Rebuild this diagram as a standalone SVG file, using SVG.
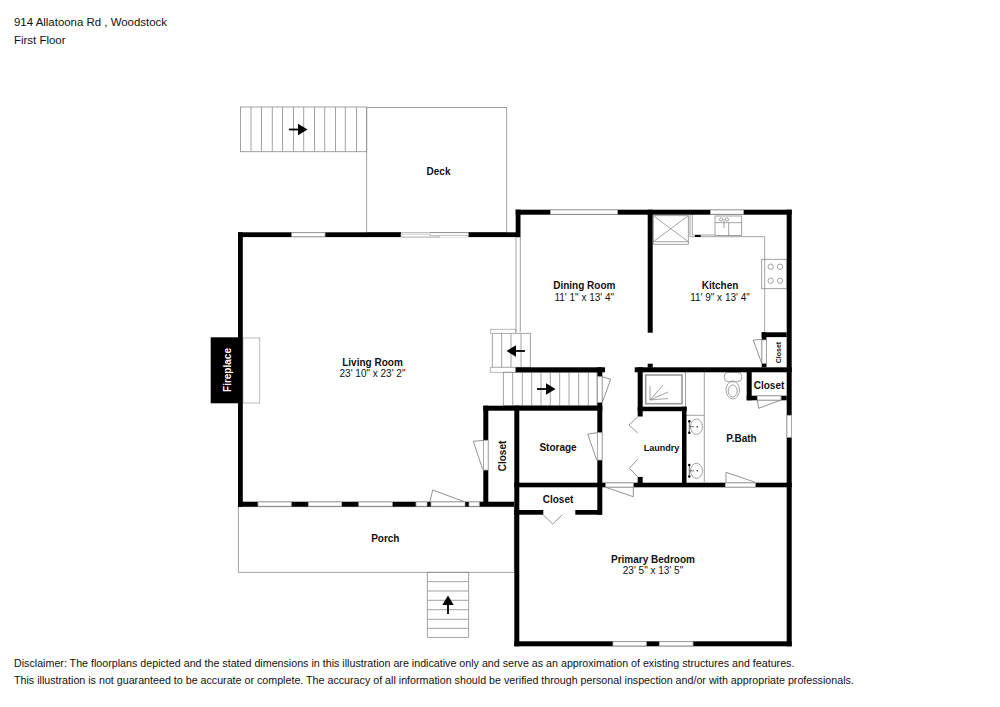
<svg xmlns="http://www.w3.org/2000/svg" width="1000" height="707" viewBox="0 0 1000 707">
<style>
text{font-family:"Liberation Sans",Arial,sans-serif;fill:#111;font-size:10px}
.b{font-weight:bold;text-anchor:middle}
.d{text-anchor:middle}
.h{font-size:11.45px}
.f{font-size:10.7px}
.t{fill:none;stroke:#8c8c8c;stroke-width:.8}
.w{fill:#fff;stroke:#a8a8a8;stroke-width:.8}
.k{fill:#000}
.s{fill:none;stroke:#777;stroke-width:.8}
</style>
<defs>
<g id="ar"><path d="M-9 0H2" stroke="#000" stroke-width="1.8" fill="none"/><path d="M0-5.7L9.5 0L0 5.7Z" fill="#000"/></g>
</defs>
<rect width="1000" height="707" fill="#fff"/>
<g id="header">
<text class="h" x="14" y="26">914 Allatoona Rd , Woodstock</text>
<text class="h" x="14" y="44">First Floor</text>
</g>
<g id="deck">
<rect class="t" x="366.7" y="107.5" width="140" height="125"/>
<text class="b" x="438.5" y="175">Deck</text>
</g>
<g id="deck-stairs">
<rect class="t" x="240.5" y="107" width="126.2" height="44.7"/>
<path class="t" d="M251 107V151.7M261.5 107V151.7M272.3 107V151.7M282.5 107V151.7M293.5 107V151.7M303.7 107V151.7M314.5 107V151.7M324.7 107V151.7M335.5 107V151.7M345.3 107V151.7M356.5 107V151.7"/>
<use href="#ar" x="298" y="129.5"/>
</g>
<g id="porch">
<rect class="t" x="238.3" y="506.7" width="276" height="65.6"/>
<text class="b" x="385.3" y="542">Porch</text>
</g>
<g id="porch-stairs">
<rect class="t" x="427.3" y="572.3" width="41.4" height="65"/>
<path class="t" d="M427.3 581.7H468.7M427.3 591H468.7M427.3 600.3H468.7M427.3 609.7H468.7M427.3 619.3H468.7M427.3 628.3H468.7"/>
<use href="#ar" transform="translate(448 605) rotate(-90)"/>
</g>
<g id="fireplace">
<rect class="w" x="243" y="338" width="16.7" height="65"/>
<rect class="k" x="210.7" y="337.3" width="28" height="66"/>
<text x="231" y="370" text-anchor="middle" transform="rotate(-90 231 370)" style="fill:#fff;font-weight:bold">Fireplace</text>
</g>
<g id="kitchen-fixtures">
<rect class="t" x="653.3" y="215.7" width="35" height="28.6"/>
<path class="t" d="M653.3 215.7L688.3 241.7M688.3 215.7L653.3 241.7M653.3 241.7H688.3"/>
<path class="t" d="M690 214.7V236.7H764.7V332M692.3 214.7V235H715"/>
<rect class="k" x="695" y="235" width="5.7" height="2"/>
<rect class="t" x="715" y="216" width="26.7" height="19.5"/>
<path class="t" d="M715 222.7H741.7M728.7 222.7V235.5M724 219V228"/>
<circle class="t" cx="721" cy="219.5" r="1.6"/><circle class="t" cx="727" cy="219.5" r="1.6"/>
<rect class="t" x="761.7" y="259.3" width="25.3" height="29.4"/>
<circle class="t" cx="770.7" cy="266.7" r="2.7"/><circle class="t" cx="780" cy="266.7" r="2.7"/>
<circle class="t" cx="770.7" cy="280.7" r="2.7"/><circle class="t" cx="780" cy="280.7" r="2.7"/>
</g>
<g id="inner-stairs">
<rect class="t" x="492.3" y="333.3" width="38" height="34"/>
<rect class="w" x="490.3" y="329.3" width="25.4" height="4"/>
<rect class="w" x="490.3" y="367.3" width="25.4" height="5"/>
<path class="t" d="M501.7 333.3V367.3M511 333.3V367.3M521 333.3V367.3"/>
<use href="#ar" transform="translate(516 351) rotate(180)"/>
<rect class="t" x="503.3" y="372.3" width="93.7" height="33.4"/>
<path class="t" d="M512.7 372.3V405.7M522.3 372.3V405.7M531.7 372.3V405.7M541 372.3V405.7M550.3 372.3V405.7M559.7 372.3V405.7M569 372.3V405.7M578.7 372.3V405.7M588.3 372.3V405.7"/>
<use href="#ar" x="546" y="389"/>
</g>
<g id="bath-fixtures">
<rect x="645.7" y="375" width="36.3" height="28.7" fill="#fff" stroke="#999" stroke-width="1.6"/>
<path class="t" d="M650 400L663 385M650 400L668 392M650 400L668 398.5M650 400V386"/>
<path class="t" d="M686 415.3H704.3V482M704.3 372.3V415.3M685.5 372.3V407"/>
<ellipse class="t" cx="696.5" cy="426.7" rx="6" ry="7.7"/>
<ellipse class="t" cx="696.5" cy="470.8" rx="6" ry="7.5"/>
<path d="M689.3 421.3V432.7M689.3 426.7H694M689.3 465V476.5M689.3 470.8H694" stroke="#333" stroke-width=".7" fill="none"/>
<circle class="k" cx="689.3" cy="421.3" r="1.2"/><circle class="k" cx="689.3" cy="432.7" r="1.2"/><circle class="k" cx="689.3" cy="465" r="1.2"/><circle class="k" cx="689.3" cy="476.5" r="1.2"/>
<circle class="k" cx="697.3" cy="426.7" r=".7"/><circle class="k" cx="697.3" cy="470.8" r=".7"/>
<rect class="t" x="724.3" y="372.3" width="17.4" height="9.4" rx="4"/>
<ellipse class="t" cx="732.7" cy="390" rx="6.7" ry="9"/>
<ellipse class="t" cx="732.7" cy="391" rx="4.5" ry="6"/>
</g>
<g id="walls" class="k">
<rect x="238" y="232.3" width="282" height="4.8"/>
<rect x="238" y="232.3" width="4.8" height="274.4"/>
<rect x="238" y="501.7" width="276.3" height="5"/>
<rect x="515.7" y="209.7" width="276" height="5"/>
<rect x="515.7" y="209.7" width="4.8" height="27.4"/>
<rect x="647.7" y="209.7" width="5" height="123"/>
<rect x="786.7" y="209.7" width="5" height="436.6"/>
<rect x="761.7" y="332.3" width="25" height="4.8"/>
<rect x="761.7" y="332.3" width="4.8" height="35"/>
<rect x="634.7" y="367.3" width="157" height="5"/>
<rect x="647.7" y="363.7" width="5" height="4"/>
<rect x="515.7" y="367.3" width="89.3" height="5"/>
<rect x="597.3" y="367.3" width="5" height="147.4"/>
<rect x="483.3" y="405.7" width="119" height="5"/>
<rect x="483.3" y="405.7" width="5" height="100"/>
<rect x="514.3" y="405.7" width="5" height="240.6"/>
<rect x="514.3" y="482.7" width="277.4" height="4.6"/>
<rect x="514.3" y="510" width="87.7" height="4.7"/>
<rect x="514.3" y="641.3" width="277.4" height="5"/>
<rect x="637.7" y="367.3" width="5" height="49.4"/>
<rect x="637.7" y="406.7" width="49" height="4.5"/>
<rect x="682" y="406.7" width="4.5" height="80"/>
<rect x="637.7" y="476.7" width="5" height="10"/>
<rect x="746.7" y="372" width="5" height="28.3"/>
<rect x="746.7" y="395.7" width="40" height="4.6"/>
</g>
<g id="openings">
<rect class="w" x="291.7" y="232.7" width="33.3" height="4"/>
<rect class="w" x="401" y="234" width="38.7" height="3"/>
<rect class="w" x="430" y="232.7" width="38.3" height="3"/>
<rect fill="#fff" x="401" y="232.3" width="29" height="1.6"/>
<rect fill="#fff" x="439.7" y="235.7" width="28.6" height="1.4"/>
<rect class="w" x="550.5" y="210" width="67" height="4.2"/>
<rect class="w" x="710.5" y="210" width="33" height="4.2"/>
<rect class="w" x="787" y="415.3" width="4.5" height="22"/>
<rect class="w" x="613" y="641.7" width="33.3" height="4.2"/>
<rect class="w" x="659.3" y="641.7" width="33.7" height="4.2"/>
<rect class="w" x="258" y="502" width="33.3" height="4.2"/>
<rect class="w" x="308.3" y="502" width="33.4" height="4.2"/>
<rect class="w" x="358.7" y="502" width="33.6" height="4.2"/>
<rect class="w" x="416" y="502" width="11" height="4.2"/>
<rect class="w" x="431" y="502" width="34" height="4.2"/>
<rect class="w" x="469" y="502" width="10.3" height="4.2"/>
<rect class="w" x="605.7" y="483" width="27.6" height="4"/>
<rect class="w" x="725.3" y="483" width="30" height="4"/>
<rect class="w" x="757.3" y="396" width="23.7" height="4"/>
<rect class="w" x="597.5" y="376.7" width="4.6" height="25.6"/>
<rect class="w" x="597.5" y="432.7" width="4.6" height="27.3"/>
<rect class="w" x="483.5" y="440.3" width="4.6" height="29.7"/>
<rect class="w" x="762" y="340" width="4.3" height="23.3"/>
<rect fill="#fff" x="543.3" y="509.5" width="32" height="5.7"/>
<rect fill="#fff" x="637.3" y="416.7" width="5.8" height="60"/>
<path class="t" d="M516 237V332M520.3 237V332"/>
</g>
<g id="door-swings">
<path class="s" d="M753.3 340L761.7 339.5M753.3 340L761.7 363.3"/>
<path class="s" d="M602.3 376.7L610.7 379.3L602.3 402.3"/>
<path class="s" d="M597.5 432.7L587.7 434L596.7 460"/>
<path class="s" d="M484 440.3L473.3 441.3L482.7 469.3"/>
<path class="s" d="M430 501.7L432.7 490L464.3 501.7"/>
<path class="s" d="M605.7 487.3L633.3 496.7V487"/>
<path class="s" d="M543.3 515L552.7 524L562 515"/>
<path class="s" d="M637.7 417L629 425L637.7 433"/>
<path class="s" d="M637.7 459.3L629.3 468.3L637.7 476.7"/>
<path class="s" d="M757.3 400L758.7 408.3L781 400"/>
<path class="s" d="M726 482.3V472.3L755.3 482.3"/>
</g>
<g id="labels">
<text class="b" x="372.5" y="366">Living Room</text><text class="d" x="372.5" y="377">23' 10" x 23' 2"</text>
<text class="b" x="584.3" y="289">Dining Room</text><text class="d" x="584.3" y="301">11' 1" x 13' 4"</text>
<text class="b" x="720" y="289">Kitchen</text><text class="d" x="720" y="301">11' 9" x 13' 4"</text>
<text class="b" x="653" y="563">Primary Bedroom</text><text class="d" x="653" y="574">23' 5" x 13' 5"</text>
<text class="b" x="558" y="451">Storage</text>
<text class="b" x="558" y="503">Closet</text>
<text class="b" x="769" y="388.5">Closet</text>
<text class="b" x="741.5" y="441.5">P.Bath</text>
<text class="b" x="661.5" y="450.5" style="font-size:9px">Laundry</text>
<text class="b" transform="translate(506 456) rotate(-90)">Closet</text>
<text class="b" transform="translate(780.5 352.5) rotate(-90)" style="font-size:7px">Closet</text>
</g>
<g id="footer">
<text class="f" x="14" y="667">Disclaimer: The floorplans depicted and the stated dimensions in this illustration are indicative only and serve as an approximation of existing structures and features.</text>
<text class="f" x="14" y="684">This illustration is not guaranteed to be accurate or complete. The accuracy of all information should be verified through personal inspection and/or with appropriate professionals.</text>
</g>
</svg>
